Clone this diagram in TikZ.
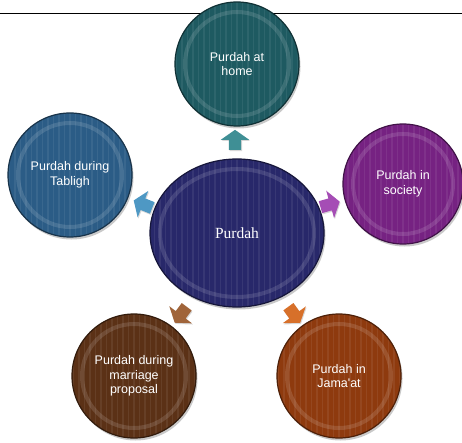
\documentclass[tikz,border=0pt]{standalone}
\usepackage{fontspec}
\setmainfont{Liberation Serif}
\newfontfamily\lsans{Liberation Sans}
\usetikzlibrary{shapes.geometric,shapes.arrows,shadows,calc}
\definecolor{cHome}{HTML}{1E5A61}
\definecolor{cTab}{HTML}{2B5C86}
\definecolor{cSoc}{HTML}{762282}
\definecolor{cCen}{HTML}{28286A}
\definecolor{cMar}{HTML}{5B3116}
\definecolor{cJam}{HTML}{8E3A0E}
\definecolor{aHome}{HTML}{3F8F95}
\definecolor{aTab}{HTML}{4E98C4}
\definecolor{aSoc}{HTML}{A54DB5}
\definecolor{aMar}{HTML}{A0643A}
\definecolor{aJam}{HTML}{D7702A}
\tikzset{
  stripes/.style={path picture={
    \foreach \i in {-16,...,16}{
      \draw[white,opacity=0.07,line width=1.2pt]
        ([xshift=\i*5.5pt]path picture bounding box.north) --
        ([xshift=\i*5.5pt]path picture bounding box.south);}
    \draw[white,opacity=0.13,line width=4pt]
      let \p1=(path picture bounding box.north east),
          \p2=(path picture bounding box.center) in
      (\p2) ellipse [x radius={\x1-\x2-10pt}, y radius={\y1-\y2-10pt}];
  }},
  bubble/.style={circle, minimum size=124pt, inner sep=0pt, fill=#1,
    draw=#1!55!black, line width=1.2pt, text=white, align=center,
    font=\lsans\fontsize{12.5}{14.5}\selectfont,
    drop shadow={shadow xshift=1.5pt, shadow yshift=-2.5pt, opacity=.35, fill=black!60},
    stripes},
  blk/.style={single arrow, minimum height=20pt,
    single arrow head extend=8pt, single arrow tip angle=110,
    inner xsep=0pt, inner ysep=6pt, fill=#1, draw=none,
    drop shadow={shadow xshift=0.8pt, shadow yshift=-1.2pt, opacity=.25, fill=black!60}},
}
\begin{document}
\begin{tikzpicture}[x=1pt,y=-1pt]
\useasboundingbox (0,0) rectangle (462,443);
\fill[white] (0,0) rectangle (462,443);
\draw[line width=1pt] (0,14) -- (462,14);

\node[bubble=cHome] (home) at (237,64) {Purdah at\\home};
\node[bubble=cTab] (tab) at (70,175) {Purdah during\\Tabligh};
\node[bubble=cSoc, minimum size=120pt] (soc) at (403,184) {Purdah in\\society};
\node[bubble=cMar] (mar) at (134,376) {Purdah during\\marriage\\proposal};
\node[bubble=cJam] (jam) at (339,376) {Purdah in\\Jama\symbol{39}at};
\node[bubble=cCen, ellipse, minimum width=174pt, minimum height=148pt,
      font=\fontsize{15.5}{17}\selectfont] (cen) at (237,233) {Purdah};

\node[blk=aHome, rotate=90] (a1) at (235,142) {};
\node[blk=aTab, rotate=158] (a2) at (145,205) {};
\node[blk=aSoc, rotate=16] (a3) at (328,205) {};
\node[blk=aMar, rotate=233] (a4) at (182,313) {};
\node[blk=aJam, rotate=306] (a5) at (293,313) {};
\end{tikzpicture}
\end{document}
